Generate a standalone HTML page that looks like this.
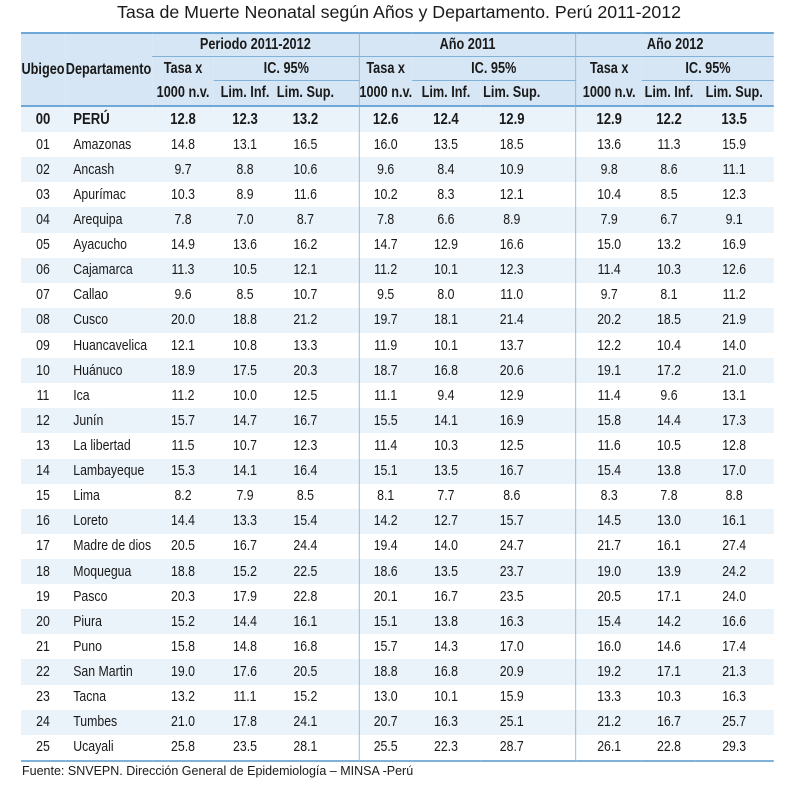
<!DOCTYPE html>
<html><head><meta charset="utf-8">
<style>
body{margin:0;width:798px;height:786px;background:#fff;position:relative;font-family:"Liberation Sans",sans-serif;color:#1a1a1a;overflow:hidden}
.title{position:absolute;top:2px;left:0;width:798px;text-align:center;font-size:17.8px}
table{position:absolute;left:21px;top:32px;border-collapse:collapse;table-layout:fixed;width:918px;font-size:15px;transform:scaleX(0.82);transform-origin:0 0}
td,th{padding:0;text-align:center;white-space:nowrap;line-height:18px}
thead th{background:#d6e6f4;font-weight:bold;font-size:15.5px}
tr.h1 th{height:22px}
tr.h2 th{height:23px}
tr.h3 th{height:24px}
tbody tr{height:25.12px}
tbody td{height:25.12px}
tbody tr:nth-child(odd) td{background:#eaf2fa}
tbody tr.peru td{font-weight:bold;font-size:16px}
td.d{text-align:left;padding-left:10px}
.c5{padding-right:29px}
.c8{padding-right:39px}
.c11{padding-right:2px}
.sep{border-right:1.8px solid #7fb2da}
.ul{border-bottom:1.5px solid #7fb2da}
.top{border-top:2px solid #6fa8d6}
.bb{border-bottom:2px solid #6fa8d6}
tbody tr:last-child td{border-bottom:2.5px solid #7fb2da}
.tx{vertical-align:top;line-height:24px}
.foot{position:absolute;left:22px;top:764px;font-size:12.5px}
</style></head><body>
<div class="title">Tasa de Muerte Neonatal según Años y Departamento. Perú 2011-2012</div>
<table>
<colgroup><col style="width:53.7px"><col style="width:106.1px"><col style="width:75.6px"><col style="width:75.6px"><col style="width:101.2px"><col style="width:64.6px"><col style="width:82.9px"><col style="width:117.1px"><col style="width:80.5px"><col style="width:65.9px"><col style="width:95.1px"></colgroup>
<thead>
<tr class="h1"><th rowspan="3" class="top bb">Ubigeo</th><th rowspan="3" class="top bb">Departamento</th><th colspan="3" class="top ul sep">Periodo 2011-2012</th><th colspan="3" class="top ul sep">Año 2011</th><th colspan="3" class="top ul">Año 2012</th></tr>
<tr class="h2"><th rowspan="2" class="tx bb">Tasa x<br>1000 n.v.</th><th colspan="2" class="ul sep">IC. 95%</th><th rowspan="2" class="tx bb">Tasa x<br>1000 n.v.</th><th colspan="2" class="ul sep">IC. 95%</th><th rowspan="2" class="tx bb">Tasa x<br>1000 n.v.</th><th colspan="2" class="ul">IC. 95%</th></tr>
<tr class="h3"><th class="bb">Lim. Inf.</th><th class="c5 sep bb">Lim. Sup.</th><th class="bb">Lim. Inf.</th><th class="c8 sep bb">Lim. Sup.</th><th class="bb">Lim. Inf.</th><th class="c11 bb">Lim. Sup.</th></tr>
</thead>
<tbody>
<tr class="peru"><td>00</td><td class="d">PERÚ</td><td>12.8</td><td>12.3</td><td class="c5 sep">13.2</td><td>12.6</td><td>12.4</td><td class="c8 sep">12.9</td><td>12.9</td><td>12.2</td><td class="c11">13.5</td></tr>
<tr><td>01</td><td class="d">Amazonas</td><td>14.8</td><td>13.1</td><td class="c5 sep">16.5</td><td>16.0</td><td>13.5</td><td class="c8 sep">18.5</td><td>13.6</td><td>11.3</td><td class="c11">15.9</td></tr>
<tr><td>02</td><td class="d">Ancash</td><td>9.7</td><td>8.8</td><td class="c5 sep">10.6</td><td>9.6</td><td>8.4</td><td class="c8 sep">10.9</td><td>9.8</td><td>8.6</td><td class="c11">11.1</td></tr>
<tr><td>03</td><td class="d">Apurímac</td><td>10.3</td><td>8.9</td><td class="c5 sep">11.6</td><td>10.2</td><td>8.3</td><td class="c8 sep">12.1</td><td>10.4</td><td>8.5</td><td class="c11">12.3</td></tr>
<tr><td>04</td><td class="d">Arequipa</td><td>7.8</td><td>7.0</td><td class="c5 sep">8.7</td><td>7.8</td><td>6.6</td><td class="c8 sep">8.9</td><td>7.9</td><td>6.7</td><td class="c11">9.1</td></tr>
<tr><td>05</td><td class="d">Ayacucho</td><td>14.9</td><td>13.6</td><td class="c5 sep">16.2</td><td>14.7</td><td>12.9</td><td class="c8 sep">16.6</td><td>15.0</td><td>13.2</td><td class="c11">16.9</td></tr>
<tr><td>06</td><td class="d">Cajamarca</td><td>11.3</td><td>10.5</td><td class="c5 sep">12.1</td><td>11.2</td><td>10.1</td><td class="c8 sep">12.3</td><td>11.4</td><td>10.3</td><td class="c11">12.6</td></tr>
<tr><td>07</td><td class="d">Callao</td><td>9.6</td><td>8.5</td><td class="c5 sep">10.7</td><td>9.5</td><td>8.0</td><td class="c8 sep">11.0</td><td>9.7</td><td>8.1</td><td class="c11">11.2</td></tr>
<tr><td>08</td><td class="d">Cusco</td><td>20.0</td><td>18.8</td><td class="c5 sep">21.2</td><td>19.7</td><td>18.1</td><td class="c8 sep">21.4</td><td>20.2</td><td>18.5</td><td class="c11">21.9</td></tr>
<tr><td>09</td><td class="d">Huancavelica</td><td>12.1</td><td>10.8</td><td class="c5 sep">13.3</td><td>11.9</td><td>10.1</td><td class="c8 sep">13.7</td><td>12.2</td><td>10.4</td><td class="c11">14.0</td></tr>
<tr><td>10</td><td class="d">Huánuco</td><td>18.9</td><td>17.5</td><td class="c5 sep">20.3</td><td>18.7</td><td>16.8</td><td class="c8 sep">20.6</td><td>19.1</td><td>17.2</td><td class="c11">21.0</td></tr>
<tr><td>11</td><td class="d">Ica</td><td>11.2</td><td>10.0</td><td class="c5 sep">12.5</td><td>11.1</td><td>9.4</td><td class="c8 sep">12.9</td><td>11.4</td><td>9.6</td><td class="c11">13.1</td></tr>
<tr><td>12</td><td class="d">Junín</td><td>15.7</td><td>14.7</td><td class="c5 sep">16.7</td><td>15.5</td><td>14.1</td><td class="c8 sep">16.9</td><td>15.8</td><td>14.4</td><td class="c11">17.3</td></tr>
<tr><td>13</td><td class="d">La libertad</td><td>11.5</td><td>10.7</td><td class="c5 sep">12.3</td><td>11.4</td><td>10.3</td><td class="c8 sep">12.5</td><td>11.6</td><td>10.5</td><td class="c11">12.8</td></tr>
<tr><td>14</td><td class="d">Lambayeque</td><td>15.3</td><td>14.1</td><td class="c5 sep">16.4</td><td>15.1</td><td>13.5</td><td class="c8 sep">16.7</td><td>15.4</td><td>13.8</td><td class="c11">17.0</td></tr>
<tr><td>15</td><td class="d">Lima</td><td>8.2</td><td>7.9</td><td class="c5 sep">8.5</td><td>8.1</td><td>7.7</td><td class="c8 sep">8.6</td><td>8.3</td><td>7.8</td><td class="c11">8.8</td></tr>
<tr><td>16</td><td class="d">Loreto</td><td>14.4</td><td>13.3</td><td class="c5 sep">15.4</td><td>14.2</td><td>12.7</td><td class="c8 sep">15.7</td><td>14.5</td><td>13.0</td><td class="c11">16.1</td></tr>
<tr><td>17</td><td class="d">Madre de dios</td><td>20.5</td><td>16.7</td><td class="c5 sep">24.4</td><td>19.4</td><td>14.0</td><td class="c8 sep">24.7</td><td>21.7</td><td>16.1</td><td class="c11">27.4</td></tr>
<tr><td>18</td><td class="d">Moquegua</td><td>18.8</td><td>15.2</td><td class="c5 sep">22.5</td><td>18.6</td><td>13.5</td><td class="c8 sep">23.7</td><td>19.0</td><td>13.9</td><td class="c11">24.2</td></tr>
<tr><td>19</td><td class="d">Pasco</td><td>20.3</td><td>17.9</td><td class="c5 sep">22.8</td><td>20.1</td><td>16.7</td><td class="c8 sep">23.5</td><td>20.5</td><td>17.1</td><td class="c11">24.0</td></tr>
<tr><td>20</td><td class="d">Piura</td><td>15.2</td><td>14.4</td><td class="c5 sep">16.1</td><td>15.1</td><td>13.8</td><td class="c8 sep">16.3</td><td>15.4</td><td>14.2</td><td class="c11">16.6</td></tr>
<tr><td>21</td><td class="d">Puno</td><td>15.8</td><td>14.8</td><td class="c5 sep">16.8</td><td>15.7</td><td>14.3</td><td class="c8 sep">17.0</td><td>16.0</td><td>14.6</td><td class="c11">17.4</td></tr>
<tr><td>22</td><td class="d">San Martin</td><td>19.0</td><td>17.6</td><td class="c5 sep">20.5</td><td>18.8</td><td>16.8</td><td class="c8 sep">20.9</td><td>19.2</td><td>17.1</td><td class="c11">21.3</td></tr>
<tr><td>23</td><td class="d">Tacna</td><td>13.2</td><td>11.1</td><td class="c5 sep">15.2</td><td>13.0</td><td>10.1</td><td class="c8 sep">15.9</td><td>13.3</td><td>10.3</td><td class="c11">16.3</td></tr>
<tr><td>24</td><td class="d">Tumbes</td><td>21.0</td><td>17.8</td><td class="c5 sep">24.1</td><td>20.7</td><td>16.3</td><td class="c8 sep">25.1</td><td>21.2</td><td>16.7</td><td class="c11">25.7</td></tr>
<tr><td>25</td><td class="d">Ucayali</td><td>25.8</td><td>23.5</td><td class="c5 sep">28.1</td><td>25.5</td><td>22.3</td><td class="c8 sep">28.7</td><td>26.1</td><td>22.8</td><td class="c11">29.3</td></tr>
</tbody>
</table>
<div class="foot">Fuente: SNVEPN. Dirección General de Epidemiología – MINSA -Perú</div>
</body></html>
